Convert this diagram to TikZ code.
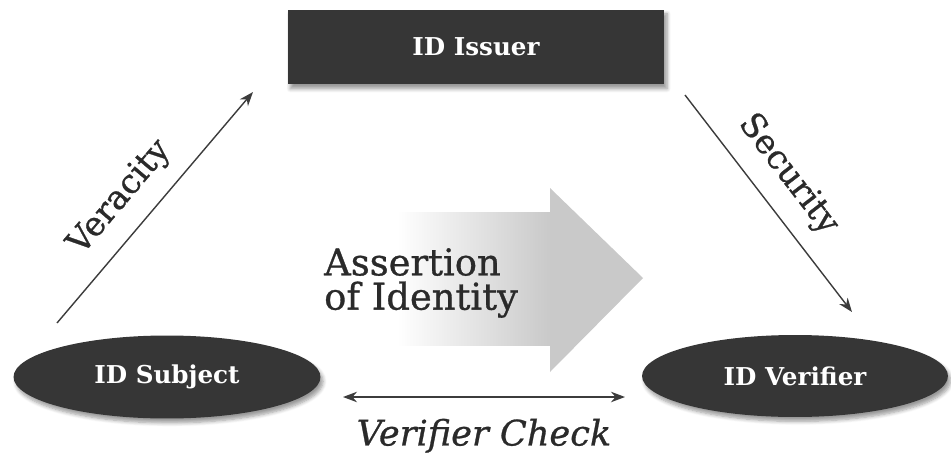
\documentclass[tikz,border=0pt]{standalone}
\usepackage{fontspec}
\setmainfont{DejaVu Serif}
\newfontfamily\slabfont[FakeBold=0.8]{DejaVu Serif}
\usetikzlibrary{arrows.meta,shadows.blur,shapes.geometric}
\definecolor{boxgray}{HTML}{363636}
\definecolor{linegray}{HTML}{3C3C3C}
\definecolor{textgray}{HTML}{2A2A2A}
\definecolor{arrowgray}{HTML}{C9C9C9}
\tikzset{
  darkbox/.style={fill=boxgray, text=white, inner sep=0pt,
    font=\bfseries\fontsize{14}{16}\selectfont,
    blur shadow={shadow xshift=1.5pt, shadow yshift=-2.5pt, shadow blur steps=6}},
  thinarrow/.style={draw=linegray, line width=0.8pt},
  tipend/.style={-{Stealth[length=8pt,width=6pt]}},
  sidetext/.style={text=textgray, font=\slabfont\fontsize{19}{22}\selectfont}
}
\begin{document}
\begin{tikzpicture}[x=0.02cm,y=-0.02cm]
\useasboundingbox (0,0) rectangle (951,460);
% big shaded arrow
\fill[arrowgray] (550,188) -- (643,278) -- (550,372) -- cycle;
\shade[left color=white, right color=arrowgray] (397,212) rectangle (550.5,345);
\node[sidetext, font=\slabfont\fontsize{21}{19.5}\selectfont, align=left, anchor=west] (assertion) at (318,283) {Assertion\\of Identity};
% parties
\node[darkbox, minimum width=7.54cm, minimum height=1.5cm] (issuer) at (476,47) {ID Issuer};
\node[darkbox, ellipse, minimum width=6.14cm, minimum height=1.66cm] (subject) at (167,377) {ID Subject};
\node[darkbox, ellipse, minimum width=6.12cm, minimum height=1.64cm] (verifier) at (795,376) {ID Verifier};
% relations
\coordinate (vera0) at (57,323);
\coordinate (vera1) at (253,92);
\coordinate (secu0) at (685,95);
\coordinate (secu1) at (852,312);
\coordinate (chk0) at (343,397);
\coordinate (chk1) at (625,397);
\draw[thinarrow, tipend] (vera0) -- node[sidetext, sloped, pos=0.45, above=6pt] {Veracity} (vera1);
\draw[thinarrow, tipend] (secu0) -- node[sidetext, sloped, pos=0.46, above=6pt] {Security} (secu1);
\draw[thinarrow, {Stealth[length=8pt,width=6pt]}-{Stealth[length=8pt,width=6pt]}] (chk0) -- node[sidetext, below=10pt, inner sep=2pt, font=\slabfont\itshape\fontsize{20}{23}\selectfont] (check) {Verifier Check} (chk1);
\end{tikzpicture}
\end{document}
